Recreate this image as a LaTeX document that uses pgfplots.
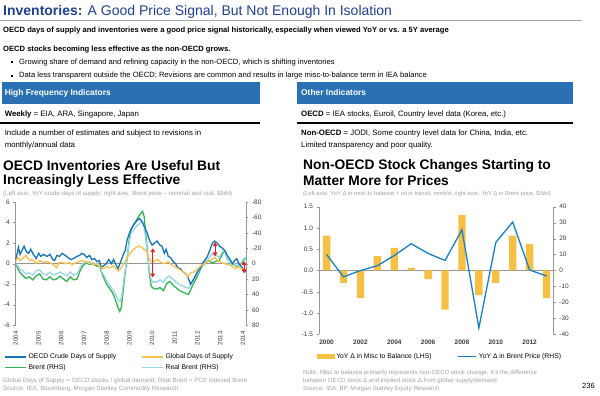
\documentclass[border=0pt]{standalone}
\usepackage{pgfplots}
\pgfplotsset{compat=1.18}
\usepackage{fontspec}
\setmainfont{Liberation Sans}
\usetikzlibrary{arrows.meta}
\definecolor{titleblue}{RGB}{31,64,145}
\definecolor{hdrblue}{RGB}{41,113,178}
\definecolor{linegray}{RGB}{170,170,170}
\definecolor{graytext}{RGB}{160,160,160}
\definecolor{axgray}{RGB}{150,150,150}
\definecolor{ticktext}{RGB}{60,60,60}
\definecolor{oecdblue}{RGB}{20,115,185}
\definecolor{globorange}{RGB}{250,192,75}
\definecolor{brentgreen}{RGB}{50,180,80}
\definecolor{realbrent}{RGB}{150,215,235}
\definecolor{arrowred}{RGB}{235,30,30}
\definecolor{baryellow}{RGB}{247,192,67}
\definecolor{linblue}{RGB}{20,130,200}
\newcommand{\fs}[1]{\fontsize{#1}{#1}\selectfont}
\pgfplotsset{/pgf/number format/assume math mode=true}
\begin{document}
\begin{tikzpicture}
\path[use as bounding box] (0pt,0pt) rectangle (600pt,396pt);
% ---------- header ----------
\node[anchor=west, inner sep=0pt, text=titleblue] at (3pt,384.5pt) {\fs{14}\textbf{Inventories:} A Good Price Signal, But Not Enough In Isolation};
\draw[linegray, line width=1.4pt] (0pt,375.7pt) -- (582pt,375.7pt);
\node[anchor=west, inner sep=0pt] at (3pt,365.4pt) {\fs{7.6}\textbf{OECD days of supply and inventories were a good price signal historically, especially when viewed YoY or vs. a 5Y average}};
\node[anchor=west, inner sep=0pt] at (3pt,346.2pt) {\fs{7.6}\textbf{OECD stocks becoming less effective as the non-OECD grows.}};
\node[anchor=west, inner sep=0pt] at (10.5pt,333.6pt) {\rule{2.2pt}{2.2pt}};
\node[anchor=west, inner sep=0pt] at (19pt,333.6pt) {\fs{7.6}Growing share of demand and refining capacity in the non-OECD, which is shifting inventories};
\node[anchor=west, inner sep=0pt] at (10.5pt,320.2pt) {\rule{2.2pt}{2.2pt}};
\node[anchor=west, inner sep=0pt] at (19pt,320.2pt) {\fs{7.6}Data less transparent outside the OECD; Revisions are common and results in large misc-to-balance term in IEA balance};
% ---------- boxes ----------
\fill[hdrblue] (2pt,314pt) rectangle (260pt,292.3pt);
\fill[hdrblue] (297pt,314pt) rectangle (573pt,292.3pt);
\node[anchor=west, inner sep=0pt, text=white] at (4.6pt,303pt) {\fs{8.4}\textbf{High Frequency Indicators}};
\node[anchor=west, inner sep=0pt, text=white] at (301pt,303pt) {\fs{8.4}\textbf{Other Indicators}};
\node[anchor=west, inner sep=0pt] at (4.6pt,281.5pt) {\fs{7.8}\textbf{Weekly} = EIA, ARA, Singapore, Japan};
\draw[black, line width=1.1pt] (0pt,273pt) -- (260pt,273pt);
\draw[black, line width=1.1pt] (297pt,273pt) -- (573pt,273pt);
\node[anchor=west, inner sep=0pt] at (4.6pt,263pt) {\fs{7.8}Include a number of estimates and subject to revisions in};
\node[anchor=west, inner sep=0pt] at (4.6pt,251pt) {\fs{7.8}monthly/annual data};
\node[anchor=west, inner sep=0pt] at (301pt,281.5pt) {\fs{7.8}\textbf{OECD} = IEA stocks, Euroil, Country level data (Korea, etc.)};
\node[anchor=west, inner sep=0pt] at (301pt,263pt) {\fs{7.8}\textbf{Non-OECD} = JODI, Some country level data for China, India, etc.};
\node[anchor=west, inner sep=0pt] at (301pt,251pt) {\fs{7.8}Limited transparency and poor quality.};
% ---------- chart titles ----------
\node[anchor=west, inner sep=0pt] at (3pt,230pt) {\fs{13.8}\textbf{OECD Inventories Are Useful But}};
\node[anchor=west, inner sep=0pt] at (3pt,215.5pt) {\fs{13.8}\textbf{Increasingly Less Effective}};
\node[anchor=west, inner sep=0pt, text=graytext] at (3pt,202pt) {\fs{6.1}(Left axis: YoY crude days of supply; right axis: Brent price -- nominal and real, \$/bbl)};
\node[anchor=west, inner sep=0pt] at (303pt,230pt) {\fs{13.8}\textbf{Non-OECD Stock Changes Starting to}};
\node[anchor=west, inner sep=0pt] at (303pt,215.5pt) {\fs{13.8}\textbf{Matter More for Prices}};
\node[anchor=west, inner sep=0pt, text=graytext] at (303pt,202pt) {\fs{5.8}(Left axis: YoY Δ in misc to balance + oil in transit, mmb/d; right axis: YoY Δ in Brent price, \$/bbl)};
% ---------- footnotes ----------
\node[anchor=west, inner sep=0pt, text=graytext] at (3pt,15.3pt) {\fs{6.2}Global Days of Supply = OECD stocks / global demand; Real Brent = PCE indexed Brent};
\node[anchor=west, inner sep=0pt, text=graytext] at (3pt,7pt) {\fs{6.2}Source: IEA, Bloomberg, Morgan Stanley Commodity Research};
\node[anchor=west, inner sep=0pt, text=graytext] at (303pt,23.3pt) {\fs{6.1}Note: Misc to balance primarily represents non-OECD stock change. It's the difference};
\node[anchor=west, inner sep=0pt, text=graytext] at (303pt,15.3pt) {\fs{6.1}between OECD stock Δ and implied stock Δ from global supply/demand.};
\node[anchor=west, inner sep=0pt, text=graytext] at (303pt,7pt) {\fs{6.1}Source: IEA, BP, Morgan Stanley Equity Research};
\node[anchor=west, inner sep=0pt] at (582pt,10pt) {\fs{7.5}236};

% ================= LEFT CHART =================
\begin{axis}[
  at={(15.7pt,70.7pt)}, anchor=south west, scale only axis,
  width=230.3pt, height=123.3pt,
  xmin=2004, xmax=2014.13, ymin=-80, ymax=80, y dir=reverse,
  axis y line*=right, axis x line=none,
  ytick={-80,-60,...,80},
  y axis line style={draw=axgray, line width=1pt},
  ytick style={draw=axgray}, tick align=outside, major tick length=2.5pt,
  yticklabel style={font=\fs{6.5}, text=ticktext},
  extra y ticks={0}, extra y tick labels={},
  extra y tick style={grid=major, major grid style={draw=axgray, line width=0.8pt}},
  clip=false
]
\addplot[brentgreen, line width=1.3pt] coordinates {
(2004.0,0)(2004.1,7)(2004.2,12)(2004.3,15)(2004.45,19)(2004.6,17)(2004.75,21)(2004.9,16)
(2005.05,13)(2005.2,20)(2005.35,21)(2005.5,17)(2005.65,21)(2005.8,20)(2005.95,16)
(2006.1,20)(2006.25,23)(2006.4,17)(2006.55,21)(2006.7,20)(2006.85,8)(2006.95,3)
(2007.1,-1)(2007.25,1)(2007.4,0)(2007.55,3)(2007.7,4)(2007.8,13)(2007.9,20)
(2008.0,27)(2008.1,31)(2008.2,35)(2008.3,40)(2008.4,48)(2008.5,57)(2008.58,62)(2008.65,56)(2008.72,37)(2008.8,16)(2008.9,-7)
(2009.0,-33)(2009.08,-45)(2009.2,-51)(2009.3,-56)(2009.4,-61)(2009.5,-65)(2009.58,-68)(2009.65,-61)(2009.72,-40)(2009.8,-13)(2009.88,13)(2009.96,29)
(2010.05,32)(2010.2,33)(2010.35,31)(2010.5,35)(2010.62,27)(2010.75,23)(2010.85,25)(2010.95,29)
(2011.05,31)(2011.2,35)(2011.35,37)(2011.5,39)(2011.6,40)(2011.68,35)(2011.8,27)(2011.95,19)
(2012.1,9)(2012.2,3)(2012.35,-1)(2012.5,-4)(2012.65,-1)(2012.8,-3)(2012.95,-4)
(2013.1,-13)(2013.2,-17)(2013.3,-7)(2013.45,0)(2013.6,1)(2013.75,4)(2013.9,0)
(2014.05,-5)(2014.12,-8)};
\addplot[realbrent, line width=1.3pt] coordinates {
(2004.0,0)(2004.1,3)(2004.2,8)(2004.3,9)(2004.45,13)(2004.6,12)(2004.75,15)(2004.9,9)
(2005.05,8)(2005.2,13)(2005.35,15)(2005.5,11)(2005.65,15)(2005.8,13)(2005.95,11)
(2006.1,13)(2006.25,16)(2006.4,11)(2006.55,15)(2006.7,13)(2006.85,4)(2006.95,0)
(2007.1,-3)(2007.25,0)(2007.4,-1)(2007.55,0)(2007.7,3)(2007.8,11)(2007.9,16)
(2008.0,23)(2008.1,27)(2008.2,31)(2008.3,35)(2008.4,40)(2008.5,47)(2008.58,49)(2008.65,44)(2008.72,29)(2008.8,11)(2008.9,-8)
(2009.0,-29)(2009.08,-40)(2009.2,-44)(2009.3,-48)(2009.4,-51)(2009.5,-53)(2009.58,-53)(2009.65,-48)(2009.72,-32)(2009.8,-11)(2009.88,8)(2009.96,21)
(2010.05,24)(2010.2,24)(2010.35,21)(2010.5,24)(2010.62,19)(2010.75,16)(2010.85,19)(2010.95,21)
(2011.05,24)(2011.2,27)(2011.35,29)(2011.5,31)(2011.6,32)(2011.68,28)(2011.8,21)(2011.95,15)
(2012.1,7)(2012.2,1)(2012.35,-3)(2012.5,-7)(2012.65,-13)(2012.8,-11)(2012.95,-8)
(2013.1,-16)(2013.2,-17)(2013.3,-7)(2013.45,0)(2013.6,0)(2013.75,3)(2013.9,-1)
(2014.05,-7)(2014.12,-8)};
\end{axis}

\begin{axis}[
  at={(15.7pt,70.7pt)}, anchor=south west, scale only axis,
  width=230.3pt, height=123.3pt,
  xmin=2004, xmax=2014.13, ymin=-6, ymax=6,
  axis y line*=left, axis x line*=bottom,
  x axis line style={draw=none}, xtick style={draw=none},
  xtick={2004,2005,2006,2007,2008,2009,2010,2011,2012,2013,2014},
  xticklabels={2004,2005,2006,2007,2008,2009,2010,2011,2012,2013,2014},
  xticklabel style={rotate=90, anchor=east, font=\fs{6.2}, text=ticktext},
  ytick={-6,-4,...,6},
  y axis line style={draw=axgray, line width=1pt},
  ytick style={draw=axgray}, tick align=outside, major tick length=2.5pt,
  yticklabel style={font=\fs{6.5}, text=ticktext},
  clip=false,
  legend columns=2,
  legend cell align=left,
  legend style={at={(axis description cs:-0.05,-0.214)}, anchor=north west,
    draw=none, fill=none, inner sep=0pt, font=\fs{6.8},
    /tikz/every even column/.append style={column sep=23pt}, row sep=0pt},
  legend image code/.code={\draw[#1] (0pt,0pt) -- (21pt,0pt);}
]
\addplot[oecdblue, line width=1.3pt] coordinates {
(2004.0,0.3)(2004.12,1.6)(2004.19,0.9)(2004.26,1.2)(2004.37,1.7)(2004.46,1.2)(2004.56,1.0)(2004.66,1.4)(2004.78,0.9)(2004.9,0.5)
(2005.01,1.0)(2005.1,0.7)(2005.22,0.9)(2005.37,0.7)(2005.51,0.9)(2005.63,0.4)(2005.71,0.3)(2005.81,0.8)(2005.93,0.7)
(2006.04,1.0)(2006.18,0.8)(2006.29,0.6)(2006.43,0.4)(2006.54,0.5)(2006.69,0.7)(2006.81,0.8)(2006.91,1.0)
(2007.01,0.9)(2007.13,0.6)(2007.25,0.8)(2007.35,0.4)(2007.47,0.5)(2007.57,0.2)(2007.68,0.3)(2007.76,-0.4)(2007.87,-0.2)(2007.99,0.0)
(2008.09,0.4)(2008.21,0.0)(2008.31,0.4)(2008.41,-0.1)(2008.5,-0.5)(2008.6,0.1)(2008.72,0.8)(2008.82,1.3)(2008.9,2.3)
(2009.04,3.2)(2009.19,3.8)(2009.34,4.2)(2009.44,4.4)(2009.56,4.1)(2009.66,3.6)(2009.78,3.0)(2009.9,2.2)
(2010.0,1.8)(2010.1,2.0)(2010.22,2.2)(2010.34,1.8)(2010.44,1.7)(2010.54,1.0)(2010.62,1.4)(2010.71,0.7)(2010.81,0.6)(2010.93,0.2)
(2011.03,0.0)(2011.13,-0.4)(2011.25,-0.5)(2011.37,-0.8)(2011.49,-1.0)(2011.59,-1.4)(2011.69,-2.0)(2011.78,-1.7)(2011.88,-1.3)(2011.99,-0.8)
(2012.1,-0.5)(2012.21,0.0)(2012.31,0.3)(2012.43,0.7)(2012.54,1.3)(2012.65,2.0)(2012.75,2.2)(2012.87,2.0)(2012.97,1.7)
(2013.09,1.5)(2013.19,1.3)(2013.31,0.8)(2013.43,0.4)(2013.53,0.0)(2013.63,0.3)(2013.72,0.5)(2013.82,0.0)(2013.93,-0.3)
(2014.01,-0.5)(2014.12,-0.8)};
\addlegendentry{OECD Crude Days of Supply}
\addplot[globorange, line width=1.3pt] coordinates {
(2004.0,0.3)(2004.1,0.6)(2004.2,0.3)(2004.3,0.5)(2004.45,0.8)(2004.6,0.3)(2004.75,0.4)(2004.9,0.0)
(2005.05,0.3)(2005.2,0.1)(2005.35,0.2)(2005.5,0.1)(2005.65,-0.1)(2005.8,-0.4)(2005.9,0.1)
(2006.05,0.1)(2006.2,0.0)(2006.35,0.1)(2006.5,-0.1)(2006.65,0.1)(2006.8,0.2)(2006.95,0.3)
(2007.1,0.1)(2007.25,0.2)(2007.4,-0.1)(2007.55,0.0)(2007.7,-0.3)(2007.85,-0.5)
(2008.0,-0.3)(2008.15,-0.4)(2008.3,-0.2)(2008.45,-0.6)(2008.55,-0.7)(2008.7,-0.2)(2008.85,0.4)
(2009.0,0.9)(2009.15,1.3)(2009.3,1.6)(2009.45,1.7)(2009.6,1.5)(2009.75,1.2)(2009.85,0.6)(2009.95,0.2)
(2010.1,0.2)(2010.25,0.4)(2010.4,0.1)(2010.55,0.0)(2010.7,0.2)(2010.85,-0.1)
(2011.0,-0.3)(2011.15,-0.5)(2011.3,-0.7)(2011.45,-0.9)(2011.55,-1.3)(2011.7,-0.9)(2011.85,-0.8)
(2012.0,-0.5)(2012.15,-0.2)(2012.3,0.0)(2012.45,0.2)(2012.6,0.4)(2012.75,0.6)(2012.9,0.3)
(2013.05,0.1)(2013.2,0.0)(2013.35,-0.1)(2013.5,-0.2)(2013.65,-0.5)(2013.8,-0.3)(2013.95,-0.5)(2014.1,-0.6)};
\addlegendentry{Global Days of Supply}
\addlegendimage{brentgreen, line width=1.3pt}
\addlegendentry{Brent (RHS)}
\addlegendimage{realbrent, line width=1.3pt}
\addlegendentry{Real Brent (RHS)}
\addplot[arrowred, line width=0.8pt, {Triangle[length=4pt,width=4.5pt]}-{Triangle[length=4pt,width=4.5pt]}, forget plot] coordinates {(2010.03,1.5) (2010.03,-1.35)};
\addplot[arrowred, line width=0.8pt, {Triangle[length=4pt,width=4.5pt]}-{Triangle[length=4pt,width=4.5pt]}, forget plot] coordinates {(2012.77,2.1) (2012.77,0.7)};
\addplot[arrowred, line width=0.8pt, {Triangle[length=4pt,width=4.5pt]}-{Triangle[length=4pt,width=4.5pt]}, forget plot] coordinates {(2014.04,0.25) (2014.04,-0.95)};
\end{axis}

% ================= RIGHT CHART =================
\begin{axis}[
  at={(319pt,61.7pt)}, anchor=south west, scale only axis,
  width=234.3pt, height=127.6pt,
  xmin=1999.55, xmax=2013.4, ymin=-1.5, ymax=1.5,
  axis y line*=left, axis x line*=bottom,
  x axis line style={draw=none}, xtick style={draw=none},
  xtick={2000,2002,2004,2006,2008,2010,2012},
  xticklabels={2000,2002,2004,2006,2008,2010,2012},
  xticklabel style={font=\fs{6.5}\bfseries, text=ticktext},
  ytick={-1.5,-1,-0.5,0,0.5,1,1.5},
  y tick label style={/pgf/number format/fixed, /pgf/number format/fixed zerofill, /pgf/number format/precision=1},
  yticklabel style={font=\fs{6.5}, text=ticktext},
  y axis line style={draw=axgray, line width=1pt},
  ytick style={draw=axgray}, tick align=outside, major tick length=2.5pt,
  extra y ticks={0}, extra y tick labels={},
  extra y tick style={grid=major, major grid style={draw=axgray, line width=0.8pt}},
  clip=false
]
\addplot[ybar, bar width=7.3pt, fill=baryellow, draw=none] coordinates {
(2000,0.82)(2001,-0.29)(2002,-0.65)(2003,0.34)(2004,0.53)(2005,0.06)(2006,-0.20)
(2007,-0.92)(2008,1.30)(2009,-0.58)(2010,-0.29)(2011,0.82)(2012,0.62)(2013,-0.65)};
\end{axis}

\begin{axis}[
  at={(319pt,61.7pt)}, anchor=south west, scale only axis,
  width=234.3pt, height=127.6pt,
  xmin=1999.55, xmax=2013.4, ymin=-40, ymax=40,
  axis y line*=right, axis x line=none,
  ytick={-40,-30,...,40},
  yticklabel style={font=\fs{6.5}, text=ticktext},
  y axis line style={draw=axgray, line width=1pt},
  ytick style={draw=axgray}, tick align=outside, major tick length=2.5pt,
  clip=false,
  legend columns=2,
  legend cell align=left,
  legend style={at={(axis description cs:-0.01,-0.13)}, anchor=north west,
    draw=none, fill=none, inner sep=0pt, font=\fs{6.8},
    /tikz/every even column/.append style={column sep=24pt}},
  legend image code/.code={\draw[#1] (0pt,0pt) -- (18pt,0pt);}
]
\addlegendimage{legend image code/.code={\fill[baryellow] (0pt,-2.3pt) rectangle (17pt,2.3pt);}}
\addlegendentry{YoY Δ in Misc to Balance (LHS)}
\addplot[linblue, line width=1.3pt, mark=none] coordinates {
(2000,10)(2001,-4)(2002,0)(2003,3)(2004,9.4)(2005,16.8)(2006,10.7)(2007,6.3)
(2008,25.5)(2009,-36)(2010,17.6)(2011,30.4)(2012,0.3)(2013,-3.4)};
\addlegendentry{YoY Δ in Brent Price (RHS)}
\end{axis}
\end{tikzpicture}
\end{document}
